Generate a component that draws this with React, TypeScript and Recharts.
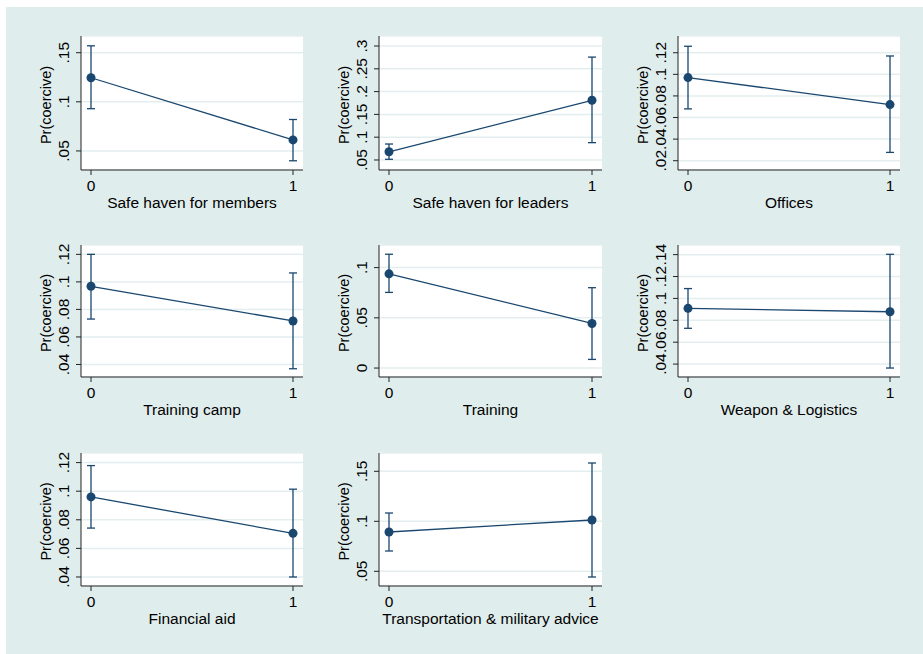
import React from "react";
import { ComposedChart, Line, ErrorBar, XAxis, YAxis, CartesianGrid } from "recharts";

const panelTitles = [
  "Safe haven for members",
  "Safe haven for leaders",
  "Offices",
  "Training camp",
  "Training",
  "Weapon & Logistics",
  "Financial aid",
  "Transportation & military advice",
];

const xLevels = [0, 1];

// predicted Pr(coercive) and 95% CI at x = 0 and x = 1, one entry per panel
const prAt0 = [0.1245, 0.068, 0.097, 0.0968, 0.0938, 0.0909, 0.096, 0.0893];
const lowAt0 = [0.093, 0.0515, 0.068, 0.073, 0.0753, 0.0727, 0.0742, 0.0703];
const highAt0 = [0.157, 0.085, 0.126, 0.12, 0.1133, 0.109, 0.1179, 0.1083];
const prAt1 = [0.0612, 0.181, 0.072, 0.0716, 0.0444, 0.0878, 0.0705, 0.1013];
const lowAt1 = [0.04, 0.088, 0.0277, 0.0369, 0.0086, 0.0364, 0.04, 0.0443];
const highAt1 = [0.082, 0.2757, 0.117, 0.1065, 0.08, 0.1403, 0.1014, 0.1583];

const yTicks = [
  [0.05, 0.1, 0.15],
  [0.05, 0.1, 0.15, 0.2, 0.25, 0.3],
  [0.02, 0.04, 0.06, 0.08, 0.1, 0.12],
  [0.04, 0.06, 0.08, 0.1, 0.12],
  [0, 0.05, 0.1],
  [0.04, 0.06, 0.08, 0.1, 0.12, 0.14],
  [0.04, 0.06, 0.08, 0.1, 0.12],
  [0.05, 0.1, 0.15],
];

const yRanges = [
  [0.0306, 0.167],
  [0.028, 0.322],
  [0.0114, 0.1355],
  [0.0309, 0.1268],
  [-0.0089, 0.1225],
  [0.0282, 0.1488],
  [0.0337, 0.1267],
  [0.0353, 0.1683],
];

const NAVY = "#1a476f";
const FONT = "'Liberation Sans', Arial, Helvetica, sans-serif";
const AXIS = "#222";

const colLeft = [81, 379, 678];
const colWidth = [222, 223, 222];
const rowTop = [36, 245, 453];
const rowHeight = [134, 132, 133];

const Y_AXIS_W = 75;
const X_AXIS_H = 60;
const TOP = 30;
const RIGHT = 12;

const fmt = (v: number) => (v === 0 ? "0" : String(v).replace(/^0/, "").replace(/^-0/, "-"));

const YTick = (props: any) => {
  const { x, y, payload } = props;
  return (
    <text
      x={x}
      y={y}
      transform={`rotate(-90 ${x} ${y})`}
      textAnchor="middle"
      fontSize={15.5}
      fontFamily={FONT}
      fill="#000"
    >
      {fmt(payload.value)}
    </text>
  );
};

function Panel({ idx }: { idx: number }) {
  const col = idx % 3;
  const row = Math.floor(idx / 3);
  const plotW = colWidth[col];
  const plotH = rowHeight[row];
  const pad = 10 / (plotW - 20);

  const data = xLevels.map((x, i) => {
    const est = i === 0 ? prAt0[idx] : prAt1[idx];
    const lo = i === 0 ? lowAt0[idx] : lowAt1[idx];
    const hi = i === 0 ? highAt0[idx] : highAt1[idx];
    return { x, est, err: [est - lo, hi - est] };
  });

  return (
    <div
      style={{
        position: "absolute",
        left: colLeft[col] - Y_AXIS_W,
        top: rowTop[row] - TOP,
      }}
    >
      <ComposedChart
        width={Y_AXIS_W + plotW + RIGHT}
        height={TOP + plotH + X_AXIS_H}
        data={data}
        margin={{ top: TOP, right: RIGHT, left: 0, bottom: 0 }}
      >
        <CartesianGrid vertical={false} stroke="#e4eeef" strokeWidth={1.5} fill="#ffffff" />
        <XAxis
          dataKey="x"
          type="number"
          domain={[-pad, 1 + pad]}
          allowDataOverflow
          ticks={xLevels}
          interval={0}
          height={X_AXIS_H}
          tickSize={5}
          tickMargin={5}
          stroke={AXIS}
          tick={{ fontSize: 15.5, fontFamily: FONT, fill: "#000" }}
          label={(p: any) => {
            const vb = p.viewBox || {};
            return (
              <text
                x={(vb.x ?? Y_AXIS_W) + (vb.width ?? plotW) / 2}
                y={(vb.y ?? TOP + plotH) + 38}
                textAnchor="middle"
                fontSize={15.5}
                fontFamily={FONT}
                fill="#000"
              >
                {panelTitles[idx]}
              </text>
            );
          }}
        />
        <YAxis
          type="number"
          domain={yRanges[idx]}
          allowDataOverflow
          ticks={yTicks[idx]}
          interval={0}
          width={Y_AXIS_W}
          tickSize={5}
          tickMargin={7}
          stroke={AXIS}
          tick={<YTick />}
          label={(p: any) => {
            const vb = p.viewBox || {};
            const bx = (vb.x ?? 0) + (vb.width ?? Y_AXIS_W) - 30.5;
            const cy = (vb.y ?? TOP) + (vb.height ?? plotH) / 2 + 2;
            return (
              <text
                x={bx}
                y={cy}
                transform={`rotate(-90 ${bx} ${cy})`}
                textAnchor="middle"
                fontSize={14.5}
                fontFamily={FONT}
                fill="#000"
              >
                Pr(coercive)
              </text>
            );
          }}
        />
        <Line
          dataKey="est"
          stroke={NAVY}
          strokeWidth={1.3}
          dot={{ r: 4.5, fill: NAVY, stroke: NAVY, strokeWidth: 0 }}
          activeDot={false}
          isAnimationActive={false}
        >
          <ErrorBar dataKey="err" direction="y" width={4} stroke={NAVY} strokeWidth={1.3} isAnimationActive={false} />
        </Line>
      </ComposedChart>
    </div>
  );
}

export default function App() {
  return (
    <div style={{ position: "absolute", left: 0, top: 0, width: 923, height: 654, background: "#fff", overflow: "hidden" }}>
      <div style={{ position: "absolute", left: 6, top: 7, right: 0, bottom: 0, background: "#e0eded" }} />
      {panelTitles.map((_, i) => (
        <Panel key={i} idx={i} />
      ))}
    </div>
  );
}
